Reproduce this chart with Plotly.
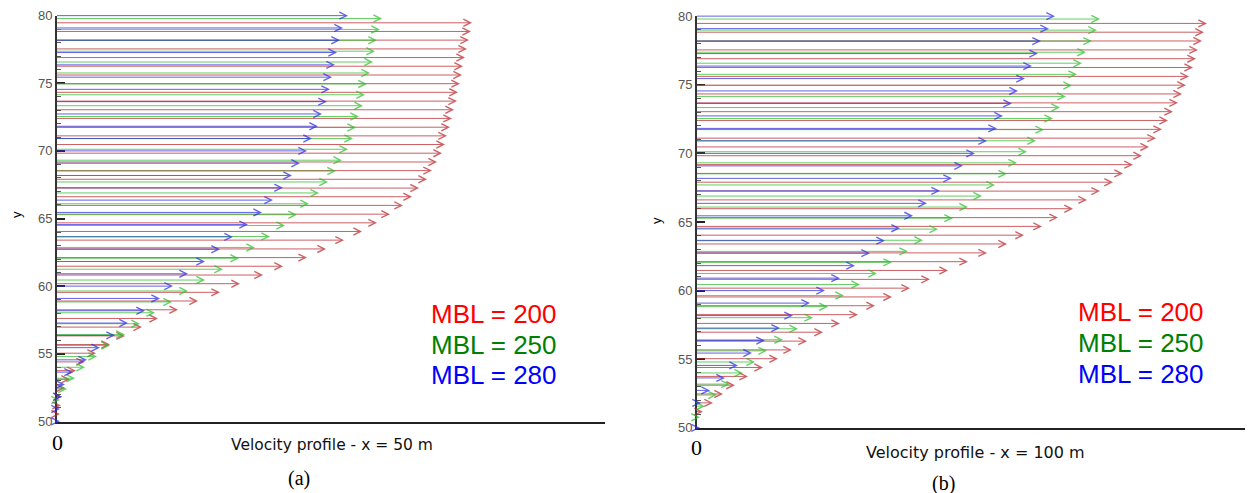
import plotly.graph_objects as go

# ---------------- data ----------------
# vertical levels of the arrows for each mesh (shared by both panels)
y_red = [79.47, 78.83, 78.19, 77.54, 76.90, 76.26, 75.61, 74.97, 74.33, 73.68,
         73.04, 72.40, 71.75, 71.11, 70.47, 69.83, 69.18, 68.54, 67.90, 67.25,
         66.61, 65.97, 65.32, 64.68, 64.04, 63.40, 62.75, 62.11, 61.47, 60.82,
         60.18, 59.54, 58.90, 58.25, 57.61, 56.97, 56.32, 55.68, 55.04, 54.40,
         53.75, 53.11, 52.47, 51.82, 51.18, 50.54]
y_green = [79.79, 78.98, 78.18, 77.37, 76.57, 75.76, 74.95, 74.15, 73.34, 72.54,
           71.73, 70.92, 70.12, 69.31, 68.51, 67.70, 66.89, 66.09, 65.28, 64.48,
           63.67, 62.86, 62.06, 61.25, 60.45, 59.64, 58.83, 58.03, 57.22, 56.42,
           55.61, 54.80, 54.00, 53.19, 52.39, 51.58, 50.77]
y_blue = [80.00, 79.09, 78.18, 77.27, 76.36, 75.45, 74.55, 73.64, 72.73, 71.82,
          70.91, 70.00, 69.09, 68.18, 67.27, 66.36, 65.45, 64.55, 63.64, 62.73,
          61.82, 60.91, 60.00, 59.09, 58.18, 57.27, 56.36, 55.45, 54.55, 53.64,
          52.73, 51.82, 50.91, 50.00]

# (a) x = 50 m : arrow lengths
u_red_50 = [4.15, 4.14, 4.12, 4.10, 4.08, 4.06, 4.05, 4.03, 4.01, 4.00,
            3.97, 3.95, 3.93, 3.90, 3.88, 3.85, 3.80, 3.75, 3.70, 3.62,
            3.55, 3.46, 3.33, 3.20, 3.05, 2.87, 2.69, 2.50, 2.26, 2.06,
            1.83, 1.63, 1.41, 1.21, 1.01, 0.85, 0.68, 0.53, 0.39, 0.28,
            0.19, 0.13, 0.08, 0.05, 0.04, 0.03]
u_green_50 = [3.25, 3.23, 3.20, 3.18, 3.16, 3.13, 3.10, 3.08, 3.06, 3.02,
              2.99, 2.96, 2.91, 2.85, 2.79, 2.71, 2.62, 2.52, 2.40, 2.28,
              2.13, 1.98, 1.82, 1.66, 1.48, 1.31, 1.15, 0.98, 0.83, 0.68,
              0.53, 0.40, 0.28, 0.18, 0.10, 0.03, 0.02]
u_blue_50 = [2.91, 2.86, 2.83, 2.80, 2.78, 2.75, 2.73, 2.70, 2.65, 2.61,
             2.55, 2.50, 2.43, 2.35, 2.26, 2.16, 2.05, 1.91, 1.76, 1.63,
             1.48, 1.31, 1.16, 1.03, 0.88, 0.71, 0.58, 0.43, 0.30, 0.16,
             0.08, 0.05, 0.03, 0.03]

# (b) x = 100 m : arrow lengths
u_red_100 = [5.10, 5.07, 5.05, 5.01, 4.99, 4.96, 4.92, 4.89, 4.85, 4.81,
             4.76, 4.71, 4.65, 4.59, 4.52, 4.45, 4.36, 4.26, 4.16, 4.03,
             3.90, 3.76, 3.61, 3.45, 3.27, 3.10, 2.90, 2.71, 2.51, 2.33,
             2.13, 1.95, 1.78, 1.61, 1.43, 1.26, 1.10, 0.95, 0.81, 0.66,
             0.51, 0.38, 0.26, 0.16, 0.06, 0.02]
u_green_100 = [4.03, 4.00, 3.95, 3.89, 3.85, 3.80, 3.75, 3.69, 3.63, 3.56,
               3.47, 3.39, 3.30, 3.20, 3.10, 2.98, 2.85, 2.71, 2.56, 2.41,
               2.26, 2.11, 1.95, 1.80, 1.63, 1.47, 1.31, 1.16, 1.01, 0.86,
               0.70, 0.58, 0.46, 0.33, 0.20, 0.08, 0.03]
u_blue_100 = [3.58, 3.52, 3.44, 3.41, 3.35, 3.28, 3.21, 3.15, 3.06, 3.00,
              2.90, 2.78, 2.66, 2.55, 2.43, 2.30, 2.16, 2.03, 1.88, 1.73,
              1.58, 1.43, 1.28, 1.13, 0.96, 0.83, 0.68, 0.55, 0.41, 0.28,
              0.13, 0.04, 0.02, 0.03]

legend_labels = ["MBL = 200", "MBL = 250", "MBL = 280"]
legend_colors = ["#ff0000", "#008000", "#0000ff"]
panel_titles = ["Velocity profile - x = 50 m", "Velocity profile - x = 100 m"]
panel_tags = ["(a)", "(b)"]
y_ticks = [50, 55, 60, 65, 70, 75, 80]

# ---------------- figure ----------------
W, H = 1253, 493
fig = go.Figure()

arrow_colors = ["rgba(185,35,40,0.72)", "rgba(40,190,40,0.72)", "rgba(45,45,225,0.75)"]

panels = [
    dict(xr="x", yr="y", series=[(y_red, u_red_50), (y_green, u_green_50), (y_blue, u_blue_50)]),
    dict(xr="x2", yr="y2", series=[(y_red, u_red_100), (y_green, u_green_100), (y_blue, u_blue_100)]),
]

annotations = []
for p in panels:
    # invisible trace so the axes exist
    fig.add_trace(go.Scatter(x=[0], y=[65], mode="markers", marker=dict(opacity=0),
                             xaxis=p["xr"], yaxis=p["yr"], showlegend=False, hoverinfo="skip"))
    for (ys, us), col in zip(p["series"], arrow_colors):
        for yv, uv in zip(ys, us):
            annotations.append(dict(
                x=uv, y=yv, ax=0, ay=yv,
                xref=p["xr"], yref=p["yr"], axref=p["xr"], ayref=p["yr"],
                text="", showarrow=True, arrowhead=5, arrowsize=1.4,
                arrowwidth=1, arrowcolor=col, standoff=0, startstandoff=0,
                borderpad=0, borderwidth=0,
            ))

# domains in pixels
dom = [
    dict(x0=57, x1=605, ytop=15.5, ybot=421.5, zero_y=442, title_x=332, title_y=445, title_size=15.5,
         tag_x=299, tag_y=478, leg_x=494, leg_y=[314, 345, 375], ylab=(16, 215)),
    dict(x0=697, x1=1245, ytop=16, ybot=428, zero_y=447, title_x=975, title_y=452, title_size=16,
         tag_x=943, tag_y=483, leg_x=1141, leg_y=[312, 343, 374], ylab=(656, 221)),
]

axis_common_y = dict(
    range=[49.99, 80.01], tickvals=y_ticks, ticks="inside", ticklen=8, tickwidth=1.5,
    tickcolor="#222", showline=True, linecolor="#333", linewidth=2, showgrid=False,
    zeroline=False, tickfont=dict(family="Liberation Sans, Arial", size=13, color="#555"),
    minor=dict(dtick=1, ticks="inside", ticklen=4, tickcolor="#555", tickwidth=1),
)
axis_common_x = dict(
    range=[0, 5.48], showticklabels=False, ticks="", showline=True, linecolor="#222",
    linewidth=2, showgrid=False, zeroline=False,
)

layout_axes = {}
for i, d in enumerate(dom):
    sx = "" if i == 0 else "2"
    layout_axes["xaxis" + sx] = dict(axis_common_x, domain=[d["x0"] / W, d["x1"] / W],
                                     anchor="y" + sx)
    layout_axes["yaxis" + sx] = dict(axis_common_y, domain=[1 - d["ybot"] / H, 1 - d["ytop"] / H],
                                     anchor="x" + sx)
    xr = "x" + sx
    annotations.append(dict(text="0", x=0, y=1 - d["zero_y"] / H, xref=xr, yref="paper",
                            showarrow=False, xanchor="center", yanchor="middle",
                            font=dict(family="Liberation Serif, Times New Roman", size=22, color="#000")))
    annotations.append(dict(text=panel_titles[i], x=d["title_x"] / W, y=1 - d["title_y"] / H,
                            xref="paper", yref="paper", showarrow=False,
                            xanchor="center", yanchor="middle",
                            font=dict(family="DejaVu Sans", size=d["title_size"], color="#111")))
    annotations.append(dict(text=panel_tags[i], x=d["tag_x"] / W, y=1 - d["tag_y"] / H,
                            xref="paper", yref="paper", showarrow=False,
                            xanchor="center", yanchor="middle",
                            font=dict(family="Liberation Serif, Times New Roman", size=20, color="#000")))
    annotations.append(dict(text="y", x=d["ylab"][0] / W, y=1 - d["ylab"][1] / H,
                            xref="paper", yref="paper", showarrow=False, textangle=-90,
                            xanchor="center", yanchor="middle",
                            font=dict(family="Liberation Sans, Arial", size=13, color="#000")))
    for lab, col, ly in zip(legend_labels, legend_colors, d["leg_y"]):
        annotations.append(dict(text=lab, x=d["leg_x"] / W, y=1 - ly / H,
                                xref="paper", yref="paper", showarrow=False,
                                xanchor="center", yanchor="middle",
                                font=dict(family="Liberation Sans, Arial", size=26, color=col)))

fig.update_layout(
    width=W, height=H, autosize=False,
    margin=dict(l=0, r=0, t=0, b=0, autoexpand=False),
    paper_bgcolor="white", plot_bgcolor="white",
    showlegend=False,
    annotations=annotations,
    **layout_axes,
)

fig.write_html("out.html")
